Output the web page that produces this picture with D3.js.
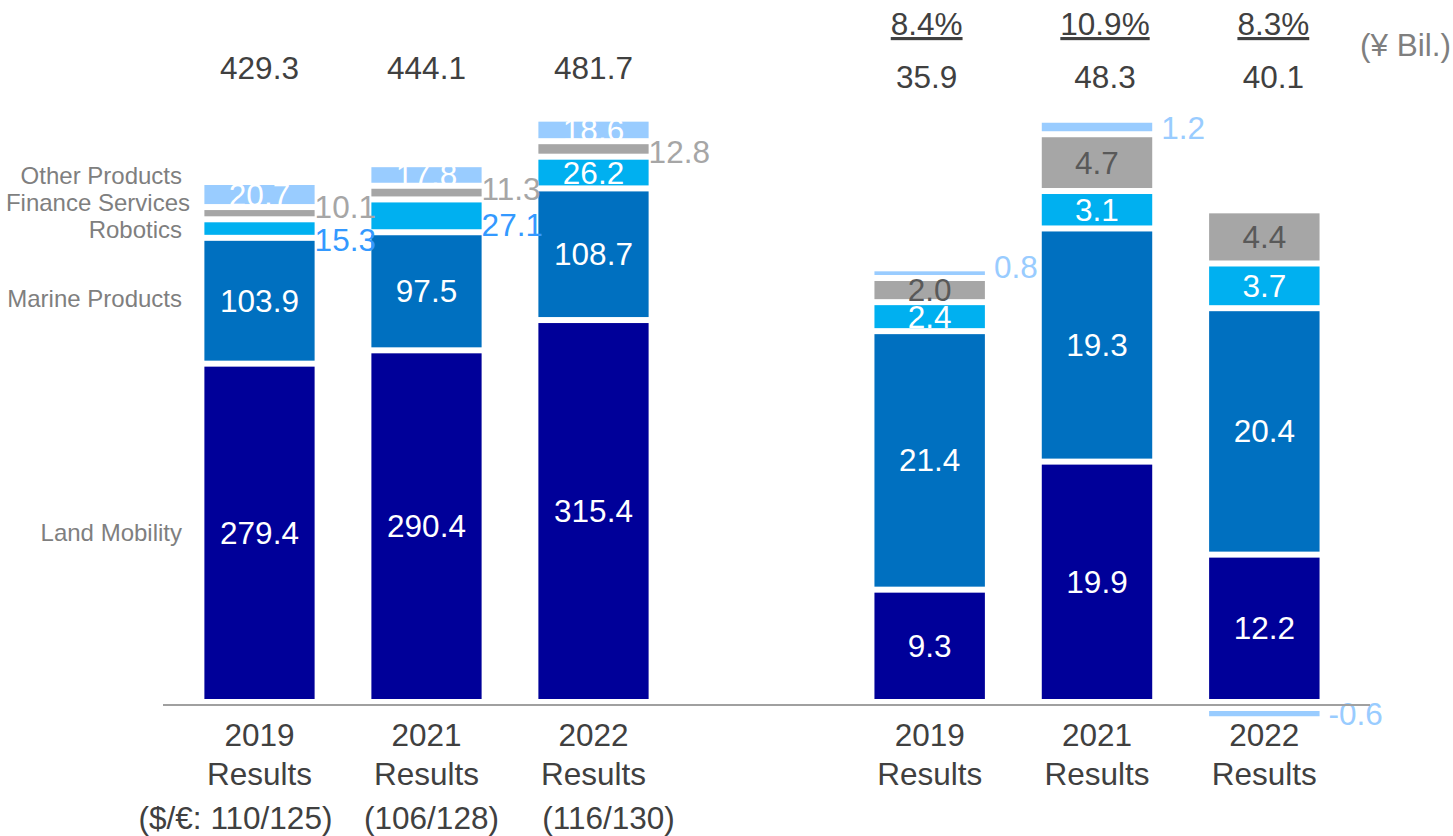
<!DOCTYPE html>
<html>
<head>
<meta charset="utf-8">
<script src="https://cdn.jsdelivr.net/npm/d3@7"></script>
<style>
  body { margin: 0; background: #fff; }
  svg { font-family: "Liberation Sans", Arial, sans-serif; }
</style>
</head>
<body>
<svg id="chart" width="1453" height="836"></svg>
<script>
// categories
var years = ["2019", "2021", "2022"];
var fxRates = ["($/€: 110/125)", "(106/128)", "(116/130)"];
var segments = ["Land Mobility", "Marine Products", "Robotics", "Finance Services", "Other Products"];

// revenue (¥ Bil.)
var salesLand = [279.4, 290.4, 315.4];
var salesMarine = [103.9, 97.5, 108.7];
var salesRobotics = [15.3, 27.1, 26.2];
var salesFinance = [10.1, 11.3, 12.8];
var salesOther = [20.7, 17.8, 18.6];
var salesTotal = [429.3, 444.1, 481.7];

// operating income (¥ Bil.)
var opLand = [9.3, 19.9, 12.2];
var opMarine = [21.4, 19.3, 20.4];
var opRobotics = [2.4, 3.1, 3.7];
var opFinance = [2.0, 4.7, 4.4];
var opOther = [0.8, 1.2, -0.6];
var opTotal = [35.9, 48.3, 40.1];
var opMargin = ["8.4%", "10.9%", "8.3%"];

var colors = {
    "Land Mobility": "#000099",
    "Marine Products": "#0070C0",
    "Robotics": "#00B0F0",
    "Finance Services": "#A6A6A6",
    "Other Products": "#99CCFF"
};
var outsideColors = {
    "Robotics": "#3399FF",
    "Finance Services": "#A6A6A6",
    "Other Products": "#99CCFF"
};
var textDark = "#404040";
var textGray = "#7F7F7F";
var bigFont = 31.5;

var svg = d3.select("#chart");

var zeroY = 702;
var yLeft = d3.scaleLinear().domain([0, 500]).range([zeroY, zeroY - 605.5]);
var yRight = d3.scaleLinear().domain([0, 50]).range([zeroY, zeroY - 604]);

var xLeft = d3.scaleBand().domain(years).range([176, 677]).paddingInner(0.34).paddingOuter(0.17);
var xRight = d3.scaleBand().domain(years).range([846, 1348]).paddingInner(0.34).paddingOuter(0.17);

function buildStack(arrays) {
    // rows per year, keyed by segment name
    return years.map(function(y, i) {
        var row = {year: y};
        segments.forEach(function(s, j) { row[s] = arrays[j][i]; });
        return row;
    });
}

var salesRows = buildStack([salesLand, salesMarine, salesRobotics, salesFinance, salesOther]);
var opRows = buildStack([opLand, opMarine, opRobotics, opFinance, opOther]);

var stack = d3.stack().keys(segments).offset(d3.stackOffsetDiverging);

// labels that sit to the right of the bar, with a small vertical nudge
var outside = {
    "sales|Robotics|0": 11, "sales|Finance Services|0": -6,
    "sales|Robotics|1": 9, "sales|Finance Services|1": -4,
    "sales|Finance Services|2": 3,
    "op|Other Products|0": -6, "op|Other Products|1": 1, "op|Other Products|2": 0
};
var outsideGap = {"sales": 0, "op": 9};

function drawGroup(name, rows, x, y) {
    var series = stack(rows);
    var g = svg.append("g").attr("class", "group-" + name);

    series.forEach(function(s) {
        var key = s.key;
        s.forEach(function(d, i) {
            var v = d.data[key];
            var x0 = x(d.data.year);
            var top = y(d[1]), bottom = y(d[0]);
            var ry, rh;
            if (v < 0) {
                // negative piece hangs below the axis line
                ry = y(0) + 9;
                rh = Math.max(3, (y(d[0]) - y(d[1])) - 2);
            } else {
                ry = top + 3;
                rh = Math.max(0, bottom - top - 6);
            }
            g.append("rect")
                .attr("x", x0)
                .attr("y", ry)
                .attr("width", x.bandwidth())
                .attr("height", rh)
                .attr("fill", colors[key]);

            var id = name + "|" + key + "|" + i;
            var label = g.append("text")
                .attr("font-size", bigFont)
                .attr("dy", "0.35em")
                .text(v.toFixed(1));
            if (id in outside) {
                var cy = v < 0 ? ry + rh / 2 : (top + bottom) / 2;
                label.attr("x", x0 + x.bandwidth() + outsideGap[name])
                    .attr("y", cy + outside[id])
                    .attr("text-anchor", "start")
                    .attr("fill", outsideColors[key]);
            } else {
                label.attr("x", x0 + x.bandwidth() / 2)
                    .attr("y", (top + bottom) / 2)
                    .attr("text-anchor", "middle")
                    .attr("fill", (name == "op" && key == "Finance Services") ? "#595959" : "#fff");
            }
        });
    });
    return series;
}

var salesSeries = drawGroup("sales", salesRows, xLeft, yLeft);
drawGroup("op", opRows, xRight, yRight);

// axis line
svg.append("line")
    .attr("x1", 163).attr("x2", 1370)
    .attr("y1", zeroY + 3).attr("y2", zeroY + 3)
    .attr("stroke", "#A0A0A0")
    .attr("stroke-width", 2);

// totals
svg.selectAll(".sales-total")
    .data(salesTotal)
    .enter().append("text")
    .attr("x", function(d, i) { return xLeft(years[i]) + xLeft.bandwidth() / 2; })
    .attr("y", 68)
    .attr("dy", "0.35em")
    .attr("text-anchor", "middle")
    .attr("font-size", bigFont)
    .attr("fill", textDark)
    .text(function(d) { return d.toFixed(1); });

var totalNudge = [-3, 8, 9];
svg.selectAll(".op-total")
    .data(opTotal)
    .enter().append("text")
    .attr("x", function(d, i) { return xRight(years[i]) + xRight.bandwidth() / 2 + totalNudge[i]; })
    .attr("y", 77)
    .attr("dy", "0.35em")
    .attr("text-anchor", "middle")
    .attr("font-size", bigFont)
    .attr("fill", textDark)
    .text(function(d) { return d.toFixed(1); });

svg.selectAll(".op-margin")
    .data(opMargin)
    .enter().append("text")
    .attr("x", function(d, i) { return xRight(years[i]) + xRight.bandwidth() / 2 + totalNudge[i]; })
    .attr("y", 24)
    .attr("dy", "0.35em")
    .attr("text-anchor", "middle")
    .attr("font-size", bigFont)
    .attr("fill", textDark)
    .attr("text-decoration", "underline")
    .text(function(d) { return d; });

svg.append("text")
    .attr("x", 1451).attr("y", 45)
    .attr("dy", "0.35em")
    .attr("text-anchor", "end")
    .attr("font-size", bigFont)
    .attr("fill", textGray)
    .text("(¥ Bil.)");

// x labels
function xLabels(x, withFx) {
    var fxNudge = [-24, 5, 15];
    years.forEach(function(yr, i) {
        var cx = x(yr) + x.bandwidth() / 2;
        var lines = [yr, "Results"];
        lines.forEach(function(t, k) {
            svg.append("text")
                .attr("x", cx).attr("y", 735 + k * 39)
                .attr("dy", "0.35em")
                .attr("text-anchor", "middle")
                .attr("font-size", bigFont)
                .attr("fill", textDark)
                .text(t);
        });
        if (withFx) {
            svg.append("text")
                .attr("x", cx + fxNudge[i]).attr("y", 818)
                .attr("dy", "0.35em")
                .attr("text-anchor", "middle")
                .attr("font-size", bigFont)
                .attr("fill", textDark)
                .text(fxRates[i]);
        }
    });
}
xLabels(xLeft, true);
xLabels(xRight, false);

// segment names next to the first revenue bar
var nameNudge = {"Land Mobility": 0, "Marine Products": -2, "Robotics": 1, "Finance Services": -11, "Other Products": -19};
var nameRight = {"Finance Services": 190};
salesSeries.forEach(function(s) {
    var d = s[0];
    svg.append("text")
        .attr("x", nameRight[s.key] || 182)
        .attr("y", (yLeft(d[0]) + yLeft(d[1])) / 2 + nameNudge[s.key])
        .attr("dy", "0.35em")
        .attr("text-anchor", "end")
        .attr("font-size", 24)
        .attr("fill", textGray)
        .text(s.key);
});
</script>
</body>
</html>
